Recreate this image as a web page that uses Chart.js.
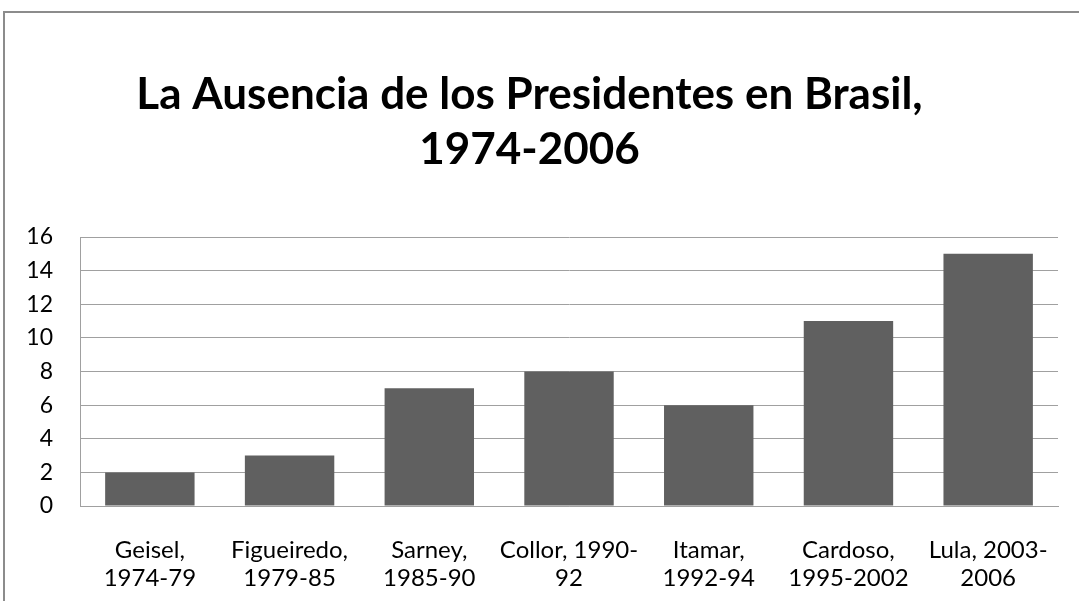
<!DOCTYPE html>
<html>
<head>
<meta charset="utf-8">
<script src="https://cdn.jsdelivr.net/npm/chart.js@4"></script>
<style>
  html, body { margin: 0; padding: 0; background: #fff; overflow: hidden; }
  #frame { position: absolute; left: 3px; top: 11px; width: 1100px; height: 620px; border: 2px solid #8c8c8c; }
  #wrap { position: absolute; left: 0; top: 0; width: 1079px; height: 601px; }
</style>
</head>
<body>
<div id="frame"></div>
<div id="wrap"><canvas id="barChart"></canvas></div>
<script>
// data
const presidents = [
  ["Geisel,", "1974-79"],
  ["Figueiredo,", "1979-85"],
  ["Sarney,", "1985-90"],
  ["Collor, 1990-", "92"],
  ["Itamar,", "1992-94"],
  ["Cardoso,", "1995-2002"],
  ["Lula, 2003-", "2006"]
]
const ausencias = [2, 3, 7, 8, 6, 11, 15]
const yTicks = [0, 2, 4, 6, 8, 10, 12, 14, 16]
const titleLines = ["La Ausencia de los Presidentes en Brasil,", "1974-2006"]

const fontFam = "Lato, 'Open Sans', sans-serif"

const config = {
  type: 'bar',
  data: {
    labels: presidents,
    datasets: [{
      data: ausencias,
      backgroundColor: '#606060',
      barPercentage: 0.64,
      categoryPercentage: 1.0
    }]
  },
  options: {
    responsive: true,
    maintainAspectRatio: false,
    animation: false,
    layout: { padding: { left: 0, right: 20, top: 67, bottom: 0 } },
    plugins: {
      legend: { display: false },
      tooltip: { enabled: false },
      title: {
        display: true,
        text: titleLines,
        color: '#000',
        font: { family: fontFam, size: 44, weight: 'bold', lineHeight: 1.25 },
        padding: { top: 0, bottom: 60 }
      }
    },
    scales: {
      x: {
        grid: { display: false, drawTicks: false },
        border: { display: true, color: '#a0a0a0', width: 1 },
        ticks: {
          color: '#000',
          font: { family: fontFam, size: 24, lineHeight: 1.17 },
          padding: 30,
          maxRotation: 0,
          autoSkip: false
        },
        afterFit: function (scale) { scale.height = 95 }
      },
      y: {
        min: 0,
        max: 16,
        afterBuildTicks: function (axis) {
          axis.ticks = yTicks.map(v => ({ value: v }))
        },
        grid: { color: '#a0a0a0', lineWidth: 1, drawTicks: false },
        border: { display: true, color: '#a0a0a0', width: 1 },
        ticks: {
          color: '#000',
          font: { family: fontFam, size: 23 },
          padding: 27
        },
        afterFit: function (scale) { scale.width = 80 }
      }
    }
  }
}

new Chart(document.getElementById('barChart'), config)
</script>
</body>
</html>
